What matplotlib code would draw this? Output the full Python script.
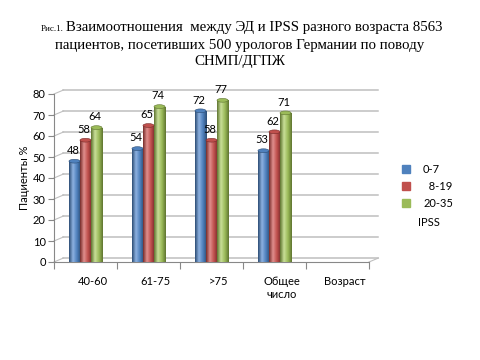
import matplotlib.pyplot as plt
import matplotlib.transforms as mtransforms
from matplotlib.colors import LinearSegmentedColormap
from matplotlib.patches import Patch, Ellipse
import numpy as np

# data
categories = ["40-60", "61-75", ">75", "Общее\nчисло", "Возраст"]
series_names = ["0-7", "  8-19", "20-35"]
ipss_0_7 = [48, 54, 72, 53, None]
ipss_8_19 = [58, 65, 58, 62, None]
ipss_20_35 = [64, 74, 77, 71, None]
colors = ["#4F81BD", "#C0504D", "#9BBB59"]
dark = ["#2C4D75", "#772C2A", "#5F7530"]
light = ["#8DB1E0", "#E08F8D", "#C8DE98"]

fig = plt.figure(figsize=(4.8, 3.6), dpi=100)
ax = fig.add_axes([54 / 480, 1 - 262 / 360, (369 - 54) / 480, (262 - 94) / 360])

x = np.arange(len(categories))
width = 0.175
grid_col = "#BFBFBF"
dx, dy = 0.15, 1.9

# back wall gridlines with a bit of perspective
for t in range(0, 81, 10):
    ax.plot([-0.5 + dx, 4.5 + dx], [t + dy, t + dy], color=grid_col, lw=1.1, zorder=1, clip_on=False)
    ax.plot([-0.5, -0.5 + dx], [t, t + dy], color=grid_col, lw=0.8, zorder=1, clip_on=False)
ax.plot([4.5, 4.5 + dx], [0, dy], color=grid_col, lw=0.8, zorder=1, clip_on=False)

all_series = [ipss_0_7, ipss_8_19, ipss_20_35]
for i, vals in enumerate(all_series):
    xs = [xi + (i - 1) * width for xi, v in zip(x, vals) if v is not None]
    vs = [v for v in vals if v is not None]
    bars = ax.bar(xs, vs, width=width, color=colors[i], edgecolor=dark[i], lw=0.4, zorder=3,
                  label=series_names[i])
    cmap = LinearSegmentedColormap.from_list("cyl", [dark[i], light[i], colors[i], dark[i]])
    grad = np.linspace(0, 1, 64).reshape(1, -1)
    for b in bars:
        im = ax.imshow(grad, extent=[b.get_x(), b.get_x() + b.get_width(), 0, b.get_height()],
                       aspect="auto", cmap=cmap, zorder=3.5, origin="lower")
        im.set_clip_path(b)
        # round top of the cylinder
        ax.add_patch(Ellipse((b.get_x() + b.get_width() / 2, b.get_height()), b.get_width(), 1.8,
                             facecolor=colors[i], edgecolor=dark[i], lw=0.4, zorder=3.6))
    for xv, v in zip(xs, vs):
        ax.text(xv - 0.02, v + 2.5, str(v), ha="center", va="bottom", fontsize=8,
                family="Lato", zorder=5)

ax.set_xlim(-0.5, 4.5)
ax.set_ylim(0, 80)
ax.set_yticks(range(0, 81, 10))
ax.set_xticks(np.arange(-0.5, 4.6, 1.0))
ax.set_xticklabels([])
ax.set_xticks(x, minor=True)
ax.set_xticklabels(categories, minor=True, fontsize=8, family="Lato")
ax.tick_params(axis="x", which="minor", length=0, pad=10)
ax.tick_params(axis="x", which="major", length=5, color="#888888")
ax.tick_params(axis="y", length=4, color="#888888", labelsize=8, pad=2)
for lab in ax.get_yticklabels():
    lab.set_family("Lato")
shift = mtransforms.ScaledTranslation(7 / 100, 0, fig.dpi_scale_trans)
for lab in ax.get_xticklabels(minor=True):
    lab.set_transform(lab.get_transform() + shift)

for s in ["top", "right"]:
    ax.spines[s].set_visible(False)
ax.spines["left"].set_color("#888888")
ax.spines["bottom"].set_color("#888888")
ax.patch.set_alpha(0)

ax.set_ylabel("Пациенты %", fontsize=8, family="Lato", labelpad=2)

handles = [Patch(color=c) for c in colors]
fig.legend(handles, series_names, loc="upper left", bbox_to_anchor=(392 / 480, 1 - 154 / 360),
           frameon=False, handlelength=0.7, handleheight=0.7, handletextpad=1.2,
           labelspacing=0.55, prop={"family": "Lato", "size": 8})
fig.text(418 / 480, 1 - 222 / 360, "IPSS", fontsize=8, family="Lato", va="center")

title_font = "Liberation Serif"
fig.text(64 / 480, 1 - 29 / 360, "Рис.1.", ha="right", va="center", fontsize=6.5, family=title_font)
fig.text(66 / 480, 1 - 28 / 360, "Взаимоотношения  между ЭД и IPSS разного возраста 8563",
         ha="left", va="center", fontsize=10.7, family=title_font)
fig.text(0.5, 1 - 45 / 360, "пациентов, посетивших 500 урологов Германии по поводу",
         ha="center", va="center", fontsize=10.7, family=title_font)
fig.text(0.5, 1 - 62 / 360, "СНМП/ДГПЖ",
         ha="center", va="center", fontsize=10.7, family=title_font)

fig.savefig("out.png", dpi=100)
